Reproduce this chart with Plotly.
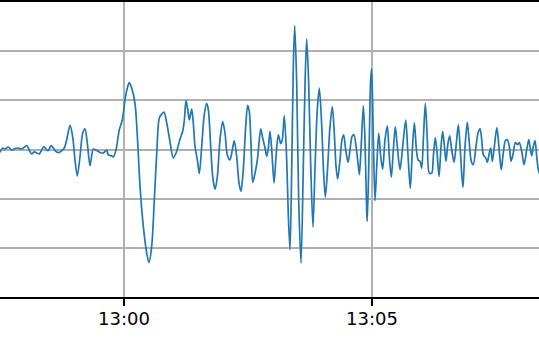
import pandas as pd
import plotly.graph_objects as go

# seconds after 12:57:30
t_sec = [
    0, 3.3, 6.0, 10.0, 14.2, 18.1, 22.1, 25.0, 28.2, 32.3, 35.4, 38.3, 41.5, 44.4, 47.5,
    50.4, 53.2, 56.5, 58.4, 61.7, 64.5, 67.7, 71.7, 75.0, 77.8, 80.7, 84.7, 87.9, 90.7,
    93.5, 96.8, 100.0, 102.8, 105.6, 108.9, 112.9, 117.0, 121.0, 125.0, 129.1, 131.0,
    135.1, 137.1, 140.3, 144.3, 147.9, 151.2, 154.0, 156.4, 159.3, 163.3, 166.6, 169.4,
    173.4, 177.5, 180.2, 183.5, 186.7, 189.6, 192.7, 195.6, 198.4, 201.7, 205.6, 209.6,
    213.2, 217.7, 221.0, 223.0, 225.0, 227.1, 229.0, 231.9, 233.8, 235.9, 238.7, 241.1,
    244.0, 246.8, 250.0, 252.0, 254.9, 257.3, 260.1, 262.9, 266.1, 269.4, 272.2, 275.0,
    278.2, 281.0, 283.4, 286.3, 289.1, 291.5, 294.3, 297.2, 299.6, 301.6, 303.6, 305.7,
    308.5, 311.3, 312.9, 315.4, 317.8, 320.6, 322.6, 324.6, 326.6, 328.7, 331.5, 333.9,
    336.7, 339.6, 341.5, 343.9, 346.8, 348.8, 350.8, 352.9, 354.8, 356.5, 358.9, 361.3,
    364.1, 366.9, 369.0, 371.0, 373.4, 375.9, 378.6, 381.1, 383.8, 386.3, 389.2, 391.1,
    393.5, 395.9, 399.2, 402.0, 404.4, 406.5, 408.5, 411.3, 413.7, 415.8, 418.2, 421.0,
    423.4, 425.8, 428.2, 430.7, 433.1, 434.7, 436.7, 439.5, 441.5, 443.6, 444.3, 446.7,
    448.4, 449.6, 451.6, 453.6, 455.7, 458.1, 460.5, 462.9, 465.7, 468.5, 470.9, 473.4,
    475.8, 478.2, 480.6, 483.9, 487.1, 490.8, 493.2, 496.3, 498.8, 501.2, 504.1, 506.0,
    508.1, 510.1, 512.1, 514.5, 516.9, 519.3, 522.2, 524.2, 526.6, 529.0, 531.1, 533.5,
    535.5, 538.0, 539.5, 541.9, 544.0, 546.4, 549.2, 551.6, 554.4, 556.5, 558.5, 560.1,
    562.5, 565.3, 567.7, 570.1, 572.5, 575.8, 578.2, 580.7, 582.7, 584.7, 587.9, 589.5,
    591.9, 593.6, 595.5, 598.0, 600.9, 602.8, 604.9, 606.4, 608.8, 611.3, 613.7, 616.1,
    618.2, 620.9, 623.4, 626.3, 628.2, 631.1, 633.9, 637.1, 639.6, 641.1, 643.2, 645.1,
    647.2, 649.2, 651.2, 654.0,
]

amplitude = [
    -0.06, 0.03, 0.01, 0.05, -0.01, 0.02, 0.03, 0.01, 0.03, 0.08, -0.01, -0.09, -0.05, -0.07, -0.09,
    -0.01, 0.06, -0.01, -0.02, 0.08, 0.03, -0.04, -0.06, -0.02, 0.03, 0.20, 0.49, 0.26, -0.21,
    -0.54, -0.14, 0.33, 0.42, 0.13, -0.33, 0.01, -0.02, -0.06, -0.07, -0.01, -0.11,
    -0.13, -0.15, -0.01, 0.40, 0.60, 1.01, 1.25, 1.36, 1.25, 0.94, 0.13, -0.75,
    -1.57, -2.11, -2.30, -1.97, -1.02, -0.07, 0.64, 0.72, 0.76, 0.54, 0.16, -0.17,
    -0.06, 0.21, 0.37, 0.60, 1.00, 0.81, 0.60, 0.82, 0.54, 0.06, -0.21, -0.49,
    0.06, 0.67, 0.94, 0.81, 0.06, -0.55, -0.81, -0.55, 0.20, 0.57, 0.33, -0.11,
    -0.21, -0.01, 0.18, -0.14, -0.68, -0.85, -0.41, 0.47, 0.90, 0.77, 0.13, -0.67,
    -0.48, -0.21, 0.06, 0.42, 0.23, 0.03, -0.14, 0.03, 0.37, -0.01, -0.68, -0.14,
    0.30, 0.12, 0.20, 0.69, -0.21, -1.36, -2.04, -0.35, 1.69, 2.52, 1.35, -1.02,
    -2.31, -0.35, 1.35, 2.25, 1.35, -0.35, -1.58, -0.35, 0.81, 1.25, 0.47, -0.35,
    -0.97, -0.48, 0.47, 0.87, 0.33, -0.35, -0.60, -0.21, 0.20, 0.30, -0.01, -0.26,
    -0.01, 0.26, 0.30, 0.06, -0.28, -0.51, -0.01, 0.89, 0.20, -1.29, -1.46, 0.20,
    1.42, 1.64, 0.20, -1.04, -0.35, 0.33, -0.14, -0.40, 0.20, 0.48, -0.14, -0.56,
    -0.01, 0.46, 0.06, -0.41, 0.06, 0.60, -0.01, -0.79, -0.01, 0.54, -0.07, -0.22,
    -0.24, -0.38, 0.20, 0.94, 0.20, -0.48, -0.48, -0.14, 0.24, -0.14, -0.55, 0.06,
    0.37, -0.01, -0.24, 0.13, 0.28, -0.01, -0.26, 0.06, 0.50, 0.06, -0.48, -0.77,
    0.06, 0.55, 0.13, -0.24, -0.31, 0.06, 0.33, 0.42, 0.20, -0.11, -0.18, -0.26,
    -0.07, 0.03, -0.24, 0.06, 0.44, 0.20, -0.21, -0.41, -0.07, 0.18, 0.20, 0.06,
    -0.24, -0.07, 0.14, 0.10, 0.14, -0.04, -0.31, -0.01, 0.20, 0.06, -0.13, 0.06,
    0.18, -0.14, -0.41, -0.55,
]

tick_times = ["13:00", "13:05"]
day = "2020-01-01"
start = pd.Timestamp(f"{day} 12:57:30")
end = pd.Timestamp(f"{day} 13:08:22")

times = [start + pd.Timedelta(seconds=s) for s in t_sec]

fig = go.Figure(
    go.Scatter(
        x=times,
        y=amplitude,
        mode="lines",
        line=dict(color="#1f77b4", width=1.7, shape="spline", smoothing=0.8),
        hoverinfo="skip",
    )
)

fig.update_layout(
    width=539,
    height=339,
    margin=dict(l=0, r=0, t=2, b=42),
    paper_bgcolor="white",
    plot_bgcolor="white",
    showlegend=False,
    font=dict(family="DejaVu Sans", size=18, color="black"),
)

fig.update_xaxes(
    type="date",
    range=[start, end],
    tickvals=[pd.Timestamp(f"{day} {t}") for t in tick_times],
    ticktext=tick_times,
    ticks="outside",
    ticklen=7,
    tickwidth=1.5,
    tickcolor="black",
    ticklabelstandoff=-3,
    showline=True,
    mirror=True,
    linecolor="black",
    linewidth=1.8,
    showgrid=True,
    gridcolor="#b0b0b0",
    gridwidth=1.6,
    zeroline=False,
)

fig.update_yaxes(
    range=[-3, 3],
    dtick=1,
    showticklabels=False,
    ticks="",
    showline=False,
    showgrid=True,
    gridcolor="#b0b0b0",
    gridwidth=1.6,
    zeroline=False,
)

fig.write_html("out.html")
